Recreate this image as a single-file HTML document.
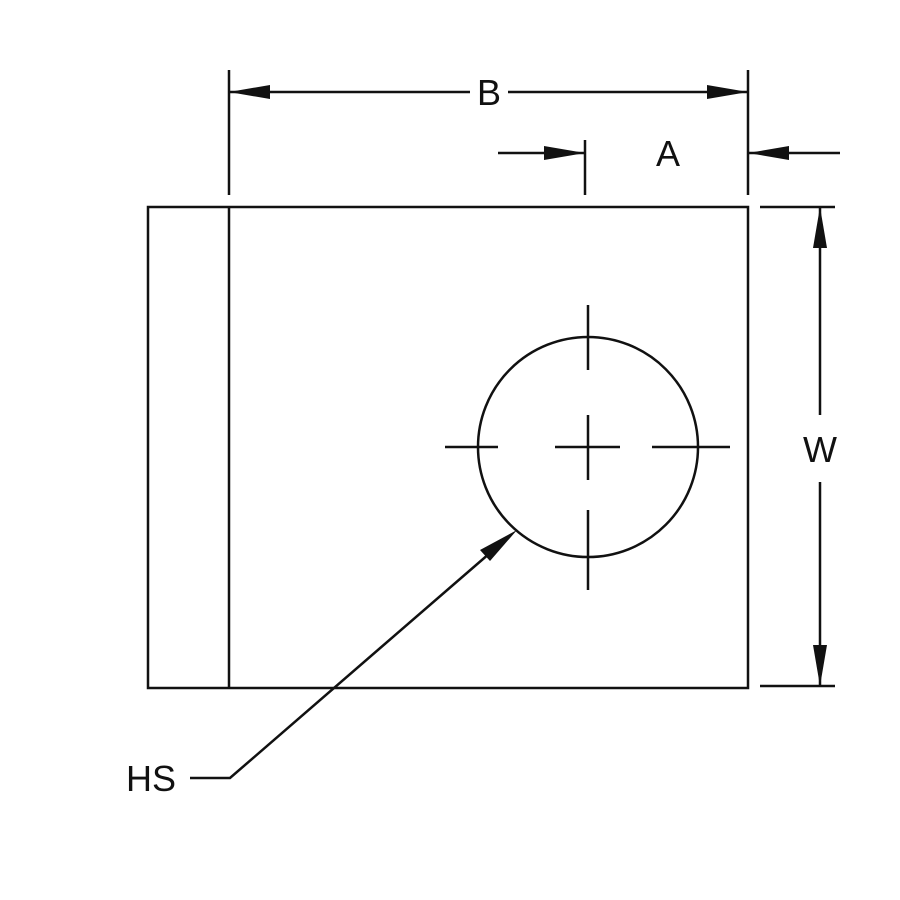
<!DOCTYPE html>
<html><head><style>body{margin:0;background:#fff}svg{display:block}</style></head>
<body>
<svg width="900" height="900" viewBox="0 0 900 900" xmlns="http://www.w3.org/2000/svg">
<g stroke="#111" stroke-width="2.5" fill="none">
<rect x="148" y="207" width="600" height="481"/>
<line x1="229" y1="207" x2="229" y2="688"/>
<line x1="229" y1="70" x2="229" y2="195"/>
<line x1="748" y1="70" x2="748" y2="195"/>
<line x1="585" y1="140" x2="585" y2="195"/>
<line x1="229" y1="92" x2="470" y2="92"/>
<line x1="508" y1="92" x2="748" y2="92"/>
<line x1="498" y1="153" x2="585" y2="153"/>
<line x1="748" y1="153" x2="840" y2="153"/>
<line x1="760" y1="207" x2="835" y2="207"/>
<line x1="760" y1="686" x2="835" y2="686"/>
<line x1="820" y1="207" x2="820" y2="415"/>
<line x1="820" y1="482" x2="820" y2="686"/>
<circle cx="588" cy="447" r="110"/>
<line x1="445" y1="447" x2="498" y2="447"/>
<line x1="555" y1="447" x2="620" y2="447"/>
<line x1="652" y1="447" x2="730" y2="447"/>
<line x1="588" y1="305" x2="588" y2="370"/>
<line x1="588" y1="415" x2="588" y2="480"/>
<line x1="588" y1="510" x2="588" y2="590"/>
<polyline points="505,540 230,778 190,778"/>
</g>
<g fill="#111">
<polygon points="229,92 270,85 270,99"/>
<polygon points="748,92 707,85 707,99"/>
<polygon points="585,153 544,146 544,160"/>
<polygon points="748,153 789,146 789,160"/>
<polygon points="820,207 813,248 827,248"/>
<polygon points="820,686 813,645 827,645"/>
<polygon points="517,530 480,550 490,561"/>
</g>
<g font-family="Liberation Sans, sans-serif" font-size="36" fill="#111" text-anchor="middle">
<text x="489" y="105">B</text>
<text x="668" y="166">A</text>
<text x="820" y="462">W</text>
<text x="151" y="791">HS</text>
</g>
</svg>
</body></html>
